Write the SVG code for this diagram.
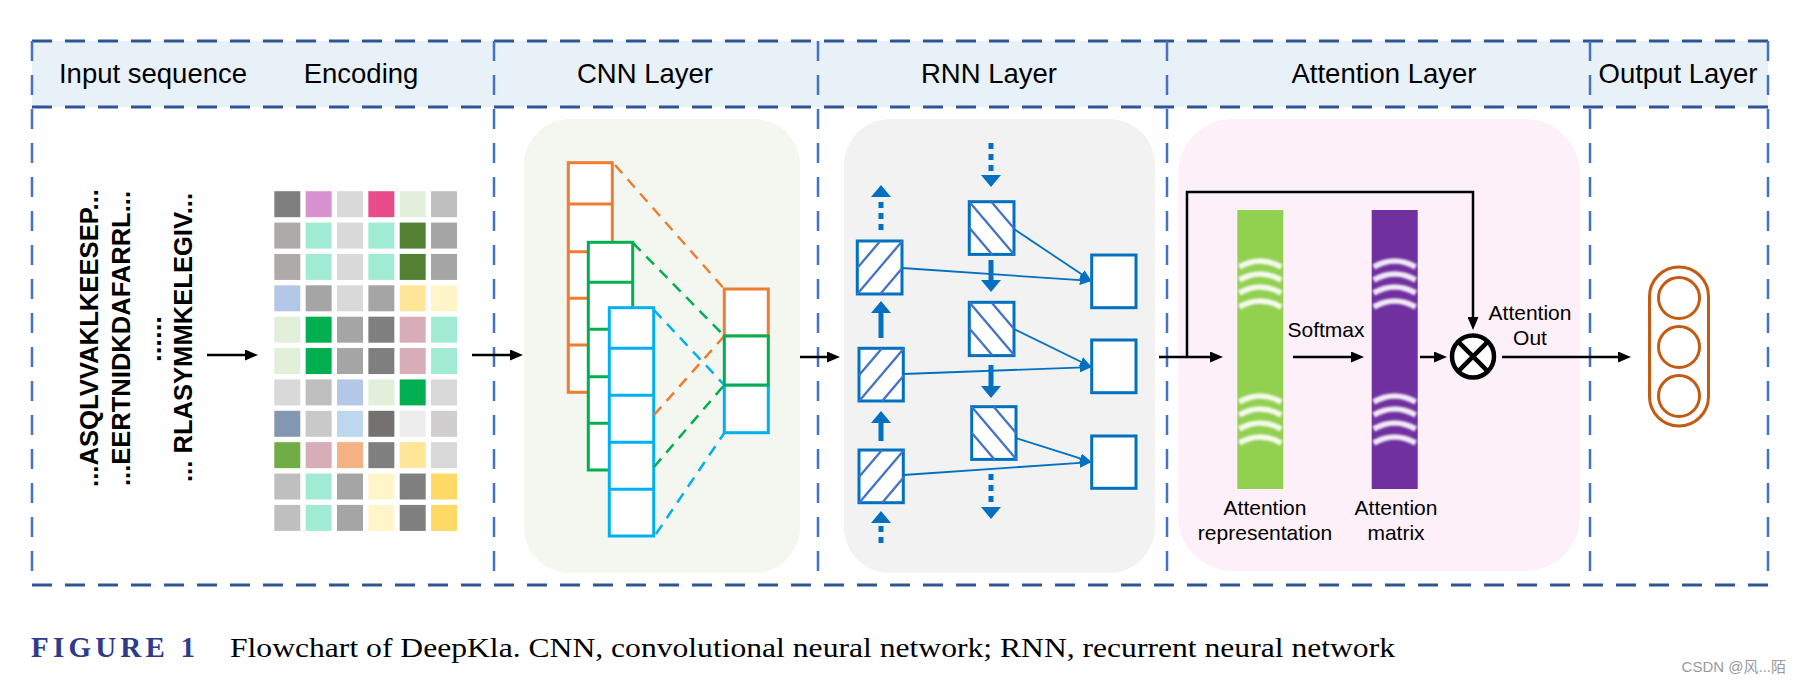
<svg xmlns="http://www.w3.org/2000/svg" width="1803" height="684" viewBox="0 0 1803 684">
<defs>
<style>
.hdr{font-family:"Liberation Sans",Arial,sans-serif;font-size:27.5px;fill:#000}
.lbl{font-family:"Liberation Sans",Arial,sans-serif;font-size:21px;fill:#000}
.seq{font-family:"Liberation Sans",Arial,sans-serif;font-size:26px;font-weight:bold;fill:#000}
.hl{stroke:#2F5597;stroke-width:3;stroke-dasharray:20 13;fill:none}
.vl{stroke:#4472C4;stroke-width:2.5;stroke-dasharray:20 14;fill:none}
.blk{stroke:#000;stroke-width:2.5;fill:none}
.cnn{fill:#fff;stroke-width:3}
.o{stroke:#ED7D31}.g{stroke:#00B050}.b{stroke:#00B0F0}
.dsh{stroke-width:2.5;stroke-dasharray:11 8;fill:none}
.rbox{fill:#fff;stroke:#0070C0;stroke-width:3}
.hat{stroke:#4472C4;stroke-width:2.3}
.thin{stroke:#0070C0;stroke-width:1.8;fill:none}
.thick{stroke:#0070C0;stroke-width:5;fill:none}
.dot{stroke:#0070C0;stroke-width:5;stroke-dasharray:6 5;fill:none}
.arc{stroke:#fff;stroke-width:5.5;fill:none;opacity:0.9}
</style>
<marker id="ah" markerUnits="userSpaceOnUse" markerWidth="13" markerHeight="11" refX="5" refY="5.5" orient="auto"><path d="M0,0 L13,5.5 L0,11 z" fill="#000"/></marker>
<marker id="bh" markerUnits="userSpaceOnUse" markerWidth="12" markerHeight="10" refX="4" refY="5" orient="auto"><path d="M0,0 L12,5 L0,10 z" fill="#0070C0"/></marker>
<marker id="tb" markerUnits="userSpaceOnUse" markerWidth="12" markerHeight="20" refX="2" refY="10" orient="auto"><path d="M0,0 L12,10 L0,20 z" fill="#0070C0"/></marker>
<filter id="soft" x="-10%" y="-50%" width="120%" height="200%"><feGaussianBlur stdDeviation="1.2"/></filter>
<g id="hf"><line class="hat" x1="0" y1="27" x2="23" y2="0"/><line class="hat" x1="0" y1="53" x2="45" y2="0"/><line class="hat" x1="23" y1="53" x2="45" y2="27"/></g>
<g id="hb"><line class="hat" x1="0" y1="0" x2="45" y2="53"/><line class="hat" x1="22" y1="0" x2="45" y2="27"/><line class="hat" x1="0" y1="26" x2="23" y2="53"/></g>
<g id="arcs" filter="url(#soft)">
<path class="arc" d="M2,267 Q23,255 44,267"/><path class="arc" d="M2,280 Q23,268 44,280"/><path class="arc" d="M2,293 Q23,281 44,293"/><path class="arc" d="M2,307 Q23,295 44,307"/>
<path class="arc" d="M2,402 Q23,390 44,402"/><path class="arc" d="M2,415 Q23,403 44,415"/><path class="arc" d="M2,429 Q23,417 44,429"/><path class="arc" d="M2,443 Q23,431 44,443"/>
</g>
</defs>
<rect width="1803" height="684" fill="#fff"/>

<g id="frame">
<rect x="32" y="41" width="1736" height="66" fill="#E8F0F8"/>
<line class="hl" x1="32" y1="41" x2="1768" y2="41"/>
<line class="hl" x1="32" y1="107" x2="1768" y2="107"/>
<line class="hl" x1="32" y1="585" x2="1768" y2="585"/>
<line class="vl" x1="32" y1="41" x2="32" y2="585"/>
<line class="vl" x1="494" y1="41" x2="494" y2="585"/>
<line class="vl" x1="818" y1="41" x2="818" y2="585"/>
<line class="vl" x1="1167" y1="41" x2="1167" y2="585"/>
<line class="vl" x1="1590" y1="41" x2="1590" y2="585"/>
<line class="vl" x1="1768" y1="41" x2="1768" y2="585"/>
<text class="hdr" x="153" y="83" text-anchor="middle">Input sequence</text>
<text class="hdr" x="361" y="83" text-anchor="middle">Encoding</text>
<text class="hdr" x="645" y="83" text-anchor="middle">CNN Layer</text>
<text class="hdr" x="989" y="83" text-anchor="middle">RNN Layer</text>
<text class="hdr" x="1384" y="83" text-anchor="middle">Attention Layer</text>
<text class="hdr" x="1678" y="83" text-anchor="middle">Output Layer</text>
</g>

<g id="input-sequence">
<text class="seq" transform="translate(98,487) rotate(-90)" textLength="298" lengthAdjust="spacingAndGlyphs">...ASQLVVAKLKEESEP...</text>
<text class="seq" transform="translate(130,486) rotate(-90)" textLength="295" lengthAdjust="spacingAndGlyphs">...EERTNIDKDAFARRL...</text>
<text class="seq" transform="translate(161,362) rotate(-90)" textLength="46" lengthAdjust="spacingAndGlyphs">......</text>
<text class="seq" transform="translate(192,482) rotate(-90)" textLength="289" lengthAdjust="spacingAndGlyphs">... RLASYMMKELEGIV...</text>
</g>

<g id="encoding">
<g transform="translate(274.3,191.2)">
<rect x="0" y="0" width="26" height="26" fill="#7F7F7F"/><rect x="31.35" y="0" width="26" height="26" fill="#D892D0"/><rect x="62.7" y="0" width="26" height="26" fill="#D9D9D9"/><rect x="94.05" y="0" width="26" height="26" fill="#E84C88"/><rect x="125.4" y="0" width="26" height="26" fill="#E2EFDA"/><rect x="156.75" y="0" width="26" height="26" fill="#BFBFBF"/>
<rect x="0" y="31.37" width="26" height="26" fill="#AEAAAA"/><rect x="31.35" y="31.37" width="26" height="26" fill="#A2EBD3"/><rect x="62.7" y="31.37" width="26" height="26" fill="#D9D9D9"/><rect x="94.05" y="31.37" width="26" height="26" fill="#A2EBD3"/><rect x="125.4" y="31.37" width="26" height="26" fill="#548235"/><rect x="156.75" y="31.37" width="26" height="26" fill="#A5A5A5"/>
<rect x="0" y="62.74" width="26" height="26" fill="#AEAAAA"/><rect x="31.35" y="62.74" width="26" height="26" fill="#A2EBD3"/><rect x="62.7" y="62.74" width="26" height="26" fill="#D9D9D9"/><rect x="94.05" y="62.74" width="26" height="26" fill="#A2EBD3"/><rect x="125.4" y="62.74" width="26" height="26" fill="#548235"/><rect x="156.75" y="62.74" width="26" height="26" fill="#A5A5A5"/>
<rect x="0" y="94.11" width="26" height="26" fill="#B4C7E7"/><rect x="31.35" y="94.11" width="26" height="26" fill="#A5A5A5"/><rect x="62.7" y="94.11" width="26" height="26" fill="#D9D9D9"/><rect x="94.05" y="94.11" width="26" height="26" fill="#A5A5A5"/><rect x="125.4" y="94.11" width="26" height="26" fill="#FFE699"/><rect x="156.75" y="94.11" width="26" height="26" fill="#FFF5C8"/>
<rect x="0" y="125.48" width="26" height="26" fill="#E2EFDA"/><rect x="31.35" y="125.48" width="26" height="26" fill="#00B050"/><rect x="62.7" y="125.48" width="26" height="26" fill="#A5A5A5"/><rect x="94.05" y="125.48" width="26" height="26" fill="#7F7F7F"/><rect x="125.4" y="125.48" width="26" height="26" fill="#D9ADB7"/><rect x="156.75" y="125.48" width="26" height="26" fill="#A2EBD3"/>
<rect x="0" y="156.85" width="26" height="26" fill="#E2EFDA"/><rect x="31.35" y="156.85" width="26" height="26" fill="#00B050"/><rect x="62.7" y="156.85" width="26" height="26" fill="#A5A5A5"/><rect x="94.05" y="156.85" width="26" height="26" fill="#7F7F7F"/><rect x="125.4" y="156.85" width="26" height="26" fill="#D9ADB7"/><rect x="156.75" y="156.85" width="26" height="26" fill="#A2EBD3"/>
<rect x="0" y="188.22" width="26" height="26" fill="#D9D9D9"/><rect x="31.35" y="188.22" width="26" height="26" fill="#BFBFBF"/><rect x="62.7" y="188.22" width="26" height="26" fill="#B4C7E7"/><rect x="94.05" y="188.22" width="26" height="26" fill="#E2EFDA"/><rect x="125.4" y="188.22" width="26" height="26" fill="#00B050"/><rect x="156.75" y="188.22" width="26" height="26" fill="#D9D9D9"/>
<rect x="0" y="219.59" width="26" height="26" fill="#8497B0"/><rect x="31.35" y="219.59" width="26" height="26" fill="#C9C9C9"/><rect x="62.7" y="219.59" width="26" height="26" fill="#BDD7EE"/><rect x="94.05" y="219.59" width="26" height="26" fill="#767171"/><rect x="125.4" y="219.59" width="26" height="26" fill="#EDEDED"/><rect x="156.75" y="219.59" width="26" height="26" fill="#D0CECE"/>
<rect x="0" y="250.96" width="26" height="26" fill="#70AD47"/><rect x="31.35" y="250.96" width="26" height="26" fill="#D9ADB7"/><rect x="62.7" y="250.96" width="26" height="26" fill="#F4B183"/><rect x="94.05" y="250.96" width="26" height="26" fill="#7F7F7F"/><rect x="125.4" y="250.96" width="26" height="26" fill="#FFE699"/><rect x="156.75" y="250.96" width="26" height="26" fill="#D9D9D9"/>
<rect x="0" y="282.33" width="26" height="26" fill="#BFBFBF"/><rect x="31.35" y="282.33" width="26" height="26" fill="#A2EBD3"/><rect x="62.7" y="282.33" width="26" height="26" fill="#A5A5A5"/><rect x="94.05" y="282.33" width="26" height="26" fill="#FFF5C8"/><rect x="125.4" y="282.33" width="26" height="26" fill="#7F7F7F"/><rect x="156.75" y="282.33" width="26" height="26" fill="#FFD966"/>
<rect x="0" y="313.7" width="26" height="26" fill="#BFBFBF"/><rect x="31.35" y="313.7" width="26" height="26" fill="#A2EBD3"/><rect x="62.7" y="313.7" width="26" height="26" fill="#A5A5A5"/><rect x="94.05" y="313.7" width="26" height="26" fill="#FFF5C8"/><rect x="125.4" y="313.7" width="26" height="26" fill="#7F7F7F"/><rect x="156.75" y="313.7" width="26" height="26" fill="#FFD966"/>
</g>
</g>

<g id="cnn-layer">
<rect x="524" y="119" width="276" height="454" rx="46" fill="#F4F6F0"/>
<g class="o">
<rect class="cnn" x="568.3" y="162.7" width="44" height="229.6"/>
<line x1="568.3" y1="204" x2="612.3" y2="204" stroke-width="3"/><line x1="568.3" y1="251.7" x2="612.3" y2="251.7" stroke-width="3"/><line x1="568.3" y1="298.3" x2="612.3" y2="298.3" stroke-width="3"/><line x1="568.3" y1="345" x2="612.3" y2="345" stroke-width="3"/>
</g>
<g class="g">
<rect class="cnn" x="588.3" y="242.3" width="44.4" height="227.7"/>
<line x1="588.3" y1="282.3" x2="632.7" y2="282.3" stroke-width="3"/><line x1="588.3" y1="329.3" x2="632.7" y2="329.3" stroke-width="3"/><line x1="588.3" y1="376.7" x2="632.7" y2="376.7" stroke-width="3"/><line x1="588.3" y1="423.3" x2="632.7" y2="423.3" stroke-width="3"/>
</g>
<g class="b">
<rect class="cnn" x="609.3" y="307.7" width="44.4" height="228.3"/>
<line x1="609.3" y1="348.3" x2="653.7" y2="348.3" stroke-width="3"/><line x1="609.3" y1="395.3" x2="653.7" y2="395.3" stroke-width="3"/><line x1="609.3" y1="442.3" x2="653.7" y2="442.3" stroke-width="3"/><line x1="609.3" y1="489.3" x2="653.7" y2="489.3" stroke-width="3"/>
</g>
<line class="o dsh" x1="615" y1="165" x2="724.3" y2="289"/>
<line class="o dsh" x1="654" y1="415" x2="724.3" y2="336"/>
<line class="g dsh" x1="633" y1="243" x2="724.3" y2="336"/>
<line class="g dsh" x1="654" y1="467" x2="724.3" y2="385"/>
<line class="b dsh" x1="654" y1="310" x2="724.3" y2="385"/>
<line class="b dsh" x1="656" y1="534" x2="724.3" y2="433"/>
<rect class="cnn o" x="724.3" y="289" width="44" height="47"/>
<rect class="cnn b" x="724.3" y="385" width="44" height="47.7"/>
<rect class="cnn g" x="724.3" y="336" width="44" height="49"/>
</g>

<g id="rnn-layer">
<rect x="844" y="119" width="311" height="454" rx="46" fill="#F2F2F2"/>
<g id="rnn-forward">
<rect class="rbox" x="857.3" y="241" width="44.7" height="53"/><use href="#hf" x="857.3" y="241"/>
<rect class="rbox" x="859" y="348.3" width="44.3" height="52.7"/><use href="#hf" x="859" y="348.3"/>
<rect class="rbox" x="859" y="450" width="44.3" height="52.7"/><use href="#hf" x="859" y="450"/>
</g>
<g id="rnn-backward">
<rect class="rbox" x="969.3" y="201.7" width="44.7" height="52.7"/><use href="#hb" x="969.3" y="201.7"/>
<rect class="rbox" x="969.3" y="302.3" width="44.7" height="53.3"/><use href="#hb" x="969.3" y="302.3"/>
<rect class="rbox" x="971.7" y="406.7" width="44.3" height="52.7"/><use href="#hb" x="971.7" y="406.7"/>
</g>
<g id="rnn-output">
<rect class="rbox" x="1091.7" y="255" width="44.3" height="52.7"/>
<rect class="rbox" x="1091.7" y="340" width="44.3" height="52.7"/>
<rect class="rbox" x="1091.7" y="436" width="44.3" height="52.3"/>
</g>
</g>

<g id="attention-layer">
<rect x="1178" y="119" width="402" height="452" rx="55" fill="#FDF0F8"/>
<rect x="1237.3" y="210" width="46" height="279" fill="#92D050"/>
<use href="#arcs" x="1237.3" y="0"/>
<rect x="1371.7" y="210" width="46" height="279" fill="#7030A0"/>
<use href="#arcs" x="1371.7" y="0"/>
<text class="lbl" x="1326" y="337" text-anchor="middle">Softmax</text>
<text class="lbl" x="1265" y="515" text-anchor="middle">Attention</text>
<text class="lbl" x="1265" y="540" text-anchor="middle">representation</text>
<text class="lbl" x="1396" y="515" text-anchor="middle">Attention</text>
<text class="lbl" x="1396" y="540" text-anchor="middle">matrix</text>
<g id="multiply">
<circle cx="1473" cy="356.5" r="21" fill="#fff" stroke="#000" stroke-width="4.5"/>
<line x1="1458.2" y1="341.7" x2="1487.8" y2="371.3" stroke="#000" stroke-width="4.5"/>
<line x1="1487.8" y1="341.7" x2="1458.2" y2="371.3" stroke="#000" stroke-width="4.5"/>
</g>
<text class="lbl" x="1530" y="320" text-anchor="middle">Attention</text>
<text class="lbl" x="1530" y="345" text-anchor="middle">Out</text>
</g>

<g id="output-layer">
<rect x="1649.5" y="267" width="59" height="159" rx="29.5" fill="none" stroke="#C55A11" stroke-width="3"/>
<circle cx="1679" cy="298" r="20.5" fill="none" stroke="#C55A11" stroke-width="3"/>
<circle cx="1679" cy="347" r="20.5" fill="none" stroke="#C55A11" stroke-width="3"/>
<circle cx="1679" cy="396" r="20.5" fill="none" stroke="#C55A11" stroke-width="3"/>
</g>

<g id="connectors">
<line class="blk" x1="207" y1="355" x2="250" y2="355" marker-end="url(#ah)"/>
<line class="blk" x1="472" y1="355" x2="515" y2="355" marker-end="url(#ah)"/>
<line class="blk" x1="800" y1="357" x2="832" y2="357" marker-end="url(#ah)"/>
<line class="blk" x1="1159" y1="357" x2="1215" y2="357" marker-end="url(#ah)"/>
<path class="blk" d="M1187,357 V192 H1473 V322" marker-end="url(#ah)"/>
<line class="blk" x1="1293" y1="357" x2="1356" y2="357" marker-end="url(#ah)"/>
<line class="blk" x1="1420" y1="357" x2="1439" y2="357" marker-end="url(#ah)"/>
<line class="blk" x1="1502" y1="357" x2="1623" y2="357" marker-end="url(#ah)"/>
<line class="dot" x1="881" y1="230" x2="881" y2="195" marker-end="url(#tb)"/>
<line class="thick" x1="881" y1="338" x2="881" y2="311" marker-end="url(#tb)"/>
<line class="thick" x1="881" y1="441" x2="881" y2="421" marker-end="url(#tb)"/>
<line class="dot" x1="881" y1="543" x2="881" y2="521" marker-end="url(#tb)"/>
<line class="dot" x1="991" y1="143" x2="991" y2="177" marker-end="url(#tb)"/>
<line class="thick" x1="991" y1="260" x2="991" y2="282" marker-end="url(#tb)"/>
<line class="thick" x1="991" y1="365" x2="991" y2="388" marker-end="url(#tb)"/>
<line class="dot" x1="991" y1="474" x2="991" y2="509" marker-end="url(#tb)"/>
<line class="thin" x1="902" y1="268" x2="1083.7" y2="280.4" marker-end="url(#bh)"/>
<line class="thin" x1="1014" y1="229" x2="1085" y2="276.6" marker-end="url(#bh)"/>
<line class="thin" x1="903.3" y1="374" x2="1083.7" y2="367.3" marker-end="url(#bh)"/>
<line class="thin" x1="1014" y1="329" x2="1084.5" y2="363.5" marker-end="url(#bh)"/>
<line class="thin" x1="903.3" y1="475" x2="1083.7" y2="462.6" marker-end="url(#bh)"/>
<line class="thin" x1="1016" y1="438" x2="1084.1" y2="459.6" marker-end="url(#bh)"/>
</g>

<g id="caption">
<text x="31" y="657" font-family="'Liberation Serif','Times New Roman',serif" font-size="29" font-weight="bold" fill="#2E3A8C" textLength="164" lengthAdjust="spacing">FIGURE 1</text>
<text x="230" y="657" font-family="'Liberation Serif','Times New Roman',serif" font-size="28" fill="#000" textLength="1165" lengthAdjust="spacingAndGlyphs">Flowchart of DeepKla. CNN, convolutional neural network; RNN, recurrent neural network</text>
<text x="1786" y="672" text-anchor="end" font-family="'Liberation Sans','Noto Sans CJK SC',sans-serif" font-size="15" fill="#9A9A9A">CSDN @风...陌</text>
</g>
</svg>
